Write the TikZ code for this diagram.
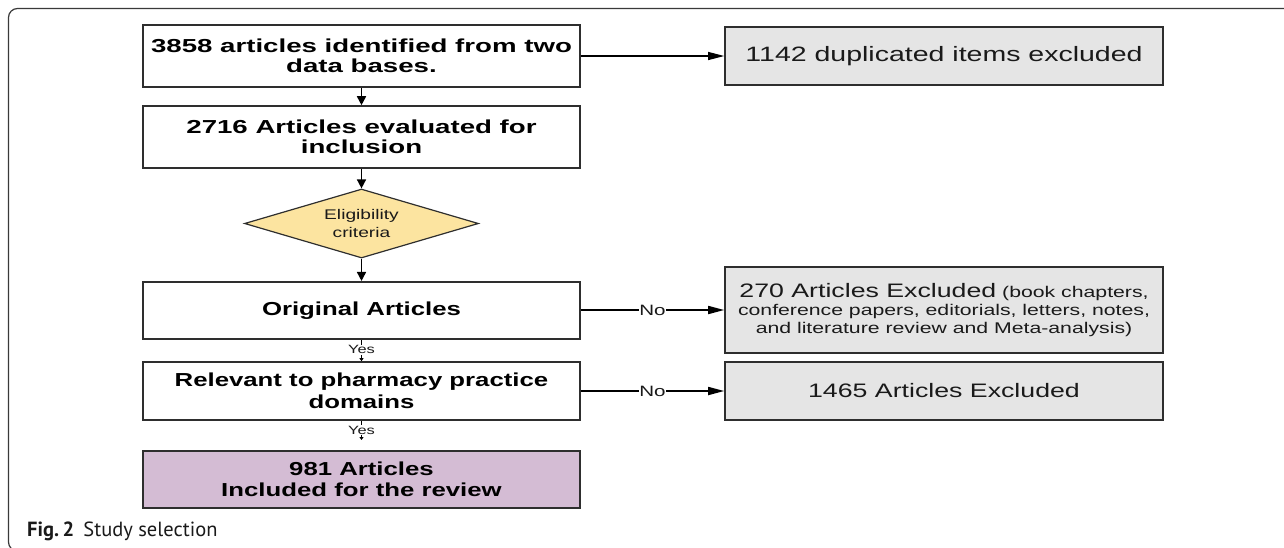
\documentclass[tikz,border=0pt]{standalone}
\usepackage{fontspec}
\setmainfont{Liberation Sans}
\newfontfamily\boxA[FakeStretch=1.47]{Liberation Sans}
\newfontfamily\boxB[FakeStretch=1.37]{Liberation Sans}
\newfontfamily\capfont{PT Sans}
\usetikzlibrary{shapes.geometric,arrows.meta}
\definecolor{bordercol}{HTML}{2E2E2E}
\definecolor{grayfill}{HTML}{E5E5E5}
\definecolor{yellowfill}{HTML}{FCE4A0}
\definecolor{purplefill}{HTML}{D4BCD4}
\definecolor{txtcol}{HTML}{1A1A1A}
\definecolor{framecol}{HTML}{3A3A3A}
\tikzset{
  leftbox/.style={draw=bordercol, line width=1.6pt, fill=white, minimum width=437pt, inner sep=0pt, align=center, text=black},
  rightbox/.style={draw=bordercol, line width=1.6pt, fill=grayfill, minimum width=438pt, inner sep=0pt, align=center, text=txtcol},
  fontA/.style={font=\boxA\bfseries\fontsize{18.8}{20.5}\selectfont},
  fontB/.style={font=\boxB\bfseries\fontsize{18.8}{21.5}\selectfont},
  varrow/.style={draw=black, line width=1.6pt, -{Triangle[length=9pt,width=9pt]}},
  harrow/.style={draw=black, line width=1.7pt, -{Triangle[length=16pt,width=8pt]}},
  thinarrow/.style={draw=black, line width=1.1pt, -{Triangle[length=16pt,width=8pt]}},
  yesarrow/.style={draw=black, line width=1.2pt, -{Triangle[length=3pt,width=4pt]}},
  lbl/.style={fill=white, inner sep=0.8pt, text=txtcol},
}
\begin{document}
\begin{tikzpicture}[x=1pt, y=-1pt]
\useasboundingbox (0,0) rectangle (1284,547);
\begin{scope}
\clip (0,0) rectangle (1284,547);
\draw[framecol, line width=1.2pt, rounded corners=9pt] (8.5,8.5) rectangle (1310,551);
\end{scope}

% left column
\node[leftbox, fontA, minimum height=62pt] (b1) at (361.5,56) {3858 articles identified from two\\data bases.};
\node[leftbox, fontA, minimum height=62pt] (b2) at (361.5,137) {2716 Articles evaluated for\\inclusion};
\node[diamond, draw=bordercol, line width=1.2pt, fill=yellowfill, minimum width=234pt, minimum height=69pt, inner sep=0pt, aspect=3.4, align=center, text=txtcol, font=\boxB\fontsize{14}{17.5}\selectfont] (d) at (361.5,223.5) {Eligibility\\criteria};
\node[leftbox, fontB, minimum height=57.5pt] (b3) at (361.5,310.5) {Original Articles};
\node[leftbox, fontB, minimum height=58pt] (b4) at (361.5,391) {Relevant to pharmacy practice\\domains};
\node[leftbox, fontB, minimum height=57pt, fill=purplefill] (b5) at (361.5,479.5) {981 Articles\\Included for the review};

% right column
\node[rightbox, minimum height=58pt, font=\boxB\fontsize{20.8}{24}\selectfont] (r1) at (944,56) {1142 duplicated items excluded};
\node[rightbox, minimum height=86pt, font=\boxB\fontsize{15.5}{18}\selectfont] (r2) at (944,310) {{\fontsize{19.5}{18}\selectfont 270 Articles Excluded} (book chapters,\\conference papers, editorials, letters, notes,\\and literature review and Meta-analysis)};
\node[rightbox, minimum height=58pt, font=\boxB\fontsize{19.5}{22}\selectfont] (r3) at (944,391) {1465 Articles Excluded};

% connectors
\draw[varrow] (b1) -- (b2);
\draw[varrow] (b2) -- (d);
\draw[varrow] (d) -- (b3);
\draw[thinarrow] (b1.east) -- (r1.west);
\draw[harrow] (b3.east |- r2.west) -- node[lbl, font=\boxB\fontsize{15}{16}\selectfont] (no1) {No} (r2.west);
\draw[harrow] (b4.east) -- node[lbl, font=\boxB\fontsize{15}{16}\selectfont] (no2) {No} (r3.west);
\draw[yesarrow] (b3) -- node[lbl, font=\boxB\fontsize{12}{13}\selectfont, pos=0.45] (yes1) {Yes} (b4);
\coordinate (c5) at (361.5,440);
\draw[yesarrow] (b4) -- node[lbl, font=\boxB\fontsize{12}{13}\selectfont, pos=0.5] (yes2) {Yes} (c5);

% caption
\node[anchor=base west, inner sep=0pt, font=\capfont\fontsize{20.5}{24}\selectfont, text=txtcol] (cap) at (27,536) {\textbf{Fig.\,2}\hspace{0.45em}Study selection};
\end{tikzpicture}
\end{document}
